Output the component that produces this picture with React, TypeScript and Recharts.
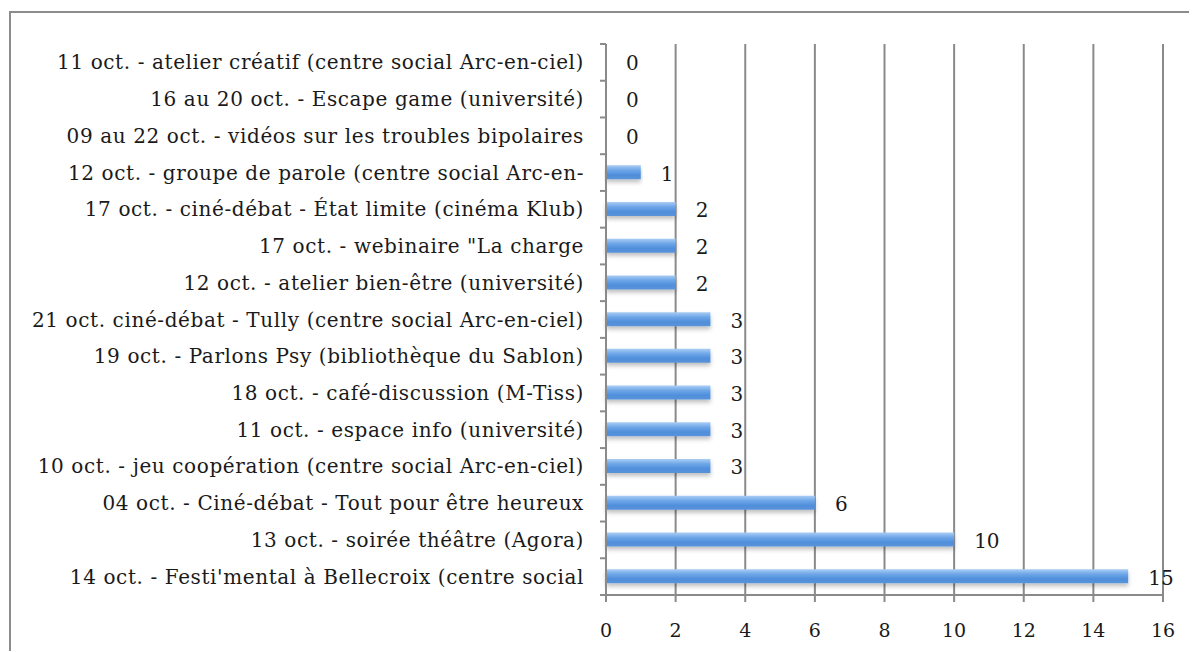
import { ComposedChart, Bar, Line, XAxis, YAxis, CartesianGrid, LabelList } from "recharts";

const categories = [
    "11 oct. - atelier créatif (centre social Arc-en-ciel)",
    "16 au 20 oct. - Escape game (université)",
    "09 au 22 oct. - vidéos sur les troubles bipolaires",
    "12 oct. - groupe de parole (centre social Arc-en-",
    "17 oct. - ciné-débat - État limite (cinéma Klub)",
    "17 oct. - webinaire \"La charge",
    "12 oct. - atelier bien-être (université)",
    "21 oct. ciné-débat - Tully (centre social Arc-en-ciel)",
    "19 oct. - Parlons Psy (bibliothèque du Sablon)",
    "18 oct. - café-discussion (M-Tiss)",
    "11 oct. - espace info (université)",
    "10 oct. - jeu coopération (centre social Arc-en-ciel)",
    "04 oct. - Ciné-débat - Tout pour être heureux",
    "13 oct. - soirée théâtre (Agora)",
    "14 oct. - Festi'mental à Bellecroix (centre social",
];
const participants = [0, 0, 0, 1, 2, 2, 2, 3, 3, 3, 3, 3, 6, 10, 15];
const xTicks = [0, 2, 4, 6, 8, 10, 12, 14, 16];

const data = categories.map((name, i) => ({ name, value: participants[i] }));

const FONT = "'DejaVu Serif', serif";
const W = 1189;
const H = 643;
const M = { top: 36, right: 34, left: 0, bottom: 0 };
const X_AXIS_H = 56;
const Y_AXIS_W = 598;
const band = (H - M.top - M.bottom - X_AXIS_H) / categories.length;
const AXIS = "#8a8a8a";
const INK = "#1a1a1a";

function CategoryTick(props: any) {
    const { x, y, payload, index } = props;
    const axisX = x + 22;
    return (
        <g>
            {index === 0 && (
                <line x1={axisX - 6} x2={axisX} y1={y - band / 2} y2={y - band / 2} stroke={AXIS} strokeWidth={2} />
            )}
            <line x1={axisX - 6} x2={axisX} y1={y + band / 2} y2={y + band / 2} stroke={AXIS} strokeWidth={2} />
            <text x={x} y={y} dy={7} textAnchor="end" fontFamily={FONT} fontSize={20} letterSpacing={0.6} fill={INK}>
                {payload.value}
            </text>
        </g>
    );
}

function ValueLabel(props: any) {
    const { x, y, value } = props;
    return (
        <text x={x + 20} y={y} dy={8} fontFamily={FONT} fontSize={20} fill={INK}>
            {value}
        </text>
    );
}

export default function App() {
    return (
        <div style={{ position: "relative", width: W, height: H }}>
            <div
                style={{
                    position: "absolute",
                    left: 1,
                    top: 3,
                    width: W,
                    height: H - 3,
                    borderTop: "2px solid #8c8c8c",
                    borderLeft: "2px solid #8c8c8c",
                    boxSizing: "border-box",
                }}
            />
            <div style={{ position: "absolute", left: 0, top: 0 }}>
                <ComposedChart width={W} height={H} data={data} layout="vertical" margin={M} barCategoryGap={0}>
                    <defs>
                        <linearGradient id="barFill" x1="0" y1="0" x2="0" y2="1">
                            <stop offset="0%" stopColor="#a9cdf5" />
                            <stop offset="35%" stopColor="#6ea6e8" />
                            <stop offset="70%" stopColor="#4f8edb" />
                            <stop offset="100%" stopColor="#5a93d8" />
                        </linearGradient>
                        <filter id="barShadow" x="-5%" y="-30%" width="110%" height="200%">
                            <feDropShadow dx="0" dy="3" stdDeviation="2" floodColor="#000" floodOpacity="0.25" />
                        </filter>
                    </defs>
                    <CartesianGrid horizontal={false} stroke={AXIS} strokeWidth={2} />
                    <XAxis
                        type="number"
                        domain={[0, 16]}
                        ticks={xTicks}
                        height={X_AXIS_H}
                        stroke={AXIS}
                        strokeWidth={2}
                        tickSize={7}
                        tickMargin={22}
                        tick={{ fontFamily: FONT, fontSize: 19, fill: INK }}
                    />
                    <YAxis
                        type="category"
                        dataKey="name"
                        width={Y_AXIS_W}
                        stroke={AXIS}
                        strokeWidth={2}
                        tickLine={false}
                        tickSize={6}
                        tickMargin={16}
                        interval={0}
                        tick={<CategoryTick />}
                    />
                    <Bar dataKey="value" fill="url(#barFill)" barSize={14} filter="url(#barShadow)" isAnimationActive={false} />
                    <Line dataKey="value" stroke="none" dot={false} activeDot={false} legendType="none" isAnimationActive={false}>
                        <LabelList dataKey="value" content={<ValueLabel />} />
                    </Line>
                </ComposedChart>
            </div>
        </div>
    );
}
